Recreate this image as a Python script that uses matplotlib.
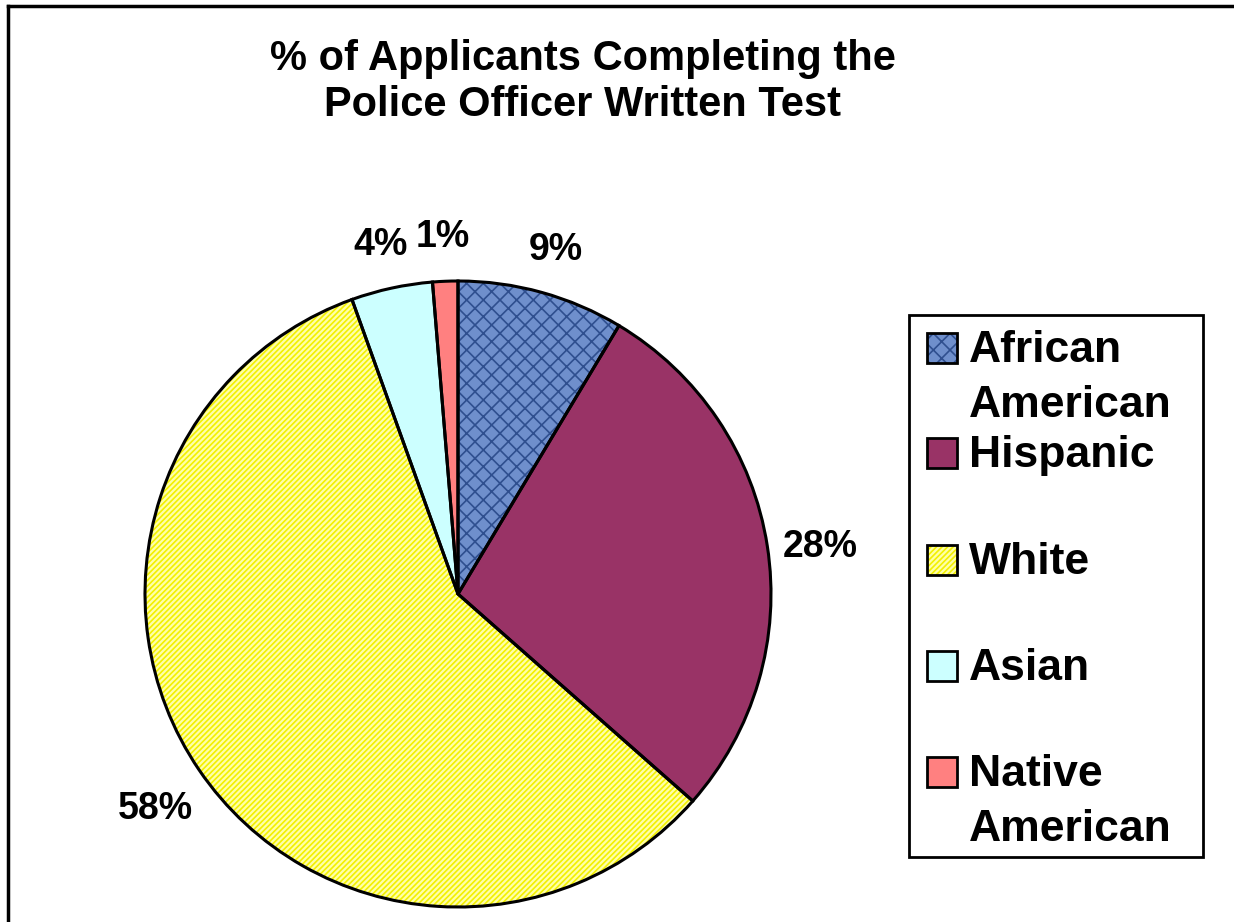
import matplotlib
matplotlib.use("Agg")
import matplotlib.pyplot as plt
from matplotlib.patches import Rectangle
from matplotlib.lines import Line2D
from matplotlib.transforms import ScaledTranslation

plt.rcParams['font.family'] = ['Liberation Sans', 'DejaVu Sans']
plt.rcParams['hatch.linewidth'] = 1.2

# ---- data ----
categories = ["African\nAmerican", "Hispanic", "White", "Asian", "Native\nAmerican"]
values = [8.6, 27.9, 58.0, 4.2, 1.3]
title_text = "% of Applicants Completing the\nPolice Officer Written Test"

face_colors = ["#6F8FCC", "#993366", "#FFFFA8", "#CCFFFF", "#FF8080"]
hatch_styles = ["xx", None, "//////", None, None]
hatch_colors = ["#2F4F8F", "#993366", "#F2F000", "#CCFFFF", "#FF8080"]

W, H = 1234, 922
fig = plt.figure(figsize=(W / 100, H / 100), dpi=100)

def fx(px):
    return px / W

def fy(py):
    return 1 - py / H

# outer frame (left and top edges visible)
fig.add_artist(Line2D([fx(8), fx(8)], [fy(6), fy(930)], color="black", lw=2.5,
                      transform=fig.transFigure))
fig.add_artist(Line2D([fx(8), fx(1240)], [fy(6), fy(6)], color="black", lw=2.5,
                      transform=fig.transFigure))

# pie axes
cx, cy, r = 458, 594, 313
ax = fig.add_axes([fx(cx - r), fy(cy + r), 2 * r / W, 2 * r / H])

wedges, _, autotexts = ax.pie(values, colors=face_colors, startangle=90, counterclock=False,
                              radius=1, autopct="%1.0f%%", pctdistance=1.17,
                              textprops=dict(fontsize=27, fontweight="bold", color="black"),
                              wedgeprops=dict(linewidth=0))
for w, hs, hc in zip(wedges, hatch_styles, hatch_colors):
    if hs:
        w.set_hatch(hs)
        w.set_edgecolor(hc)
        w.set_linewidth(0)
    w.set_clip_on(False)
shift = ScaledTranslation(0, -9 / 100, fig.dpi_scale_trans)
for t in autotexts:
    t.set_clip_on(False)
    t.set_transform(ax.transData + shift)

# outlines
outl, _ = ax.pie(values, colors=["none"] * len(values), startangle=90, counterclock=False,
                 radius=1, wedgeprops=dict(linewidth=2.2, edgecolor="black"))
for w in outl:
    w.set_clip_on(False)

ax.set_xlim(-1, 1)
ax.set_ylim(-1, 1)
ax.set_aspect("equal")
ax.axis("off")

# title
fig.text(fx(583), fy(82), title_text, ha="center", va="center", fontsize=30,
         fontweight="bold", linespacing=1.22)

# legend box
lx0, ly0, lx1, ly1 = 909, 315, 1203, 857
fig.add_artist(Rectangle((fx(lx0), fy(ly1)), (lx1 - lx0) / W, (ly1 - ly0) / H,
                         transform=fig.transFigure, facecolor="white",
                         edgecolor="black", lw=2))
marker_centers = [348, 453, 560, 666, 772]
sq = 30
for lab, fc, hs, hc, mc in zip(categories, face_colors, hatch_styles, hatch_colors, marker_centers):
    fig.add_artist(Rectangle((fx(927), fy(mc + sq / 2)), sq / W, sq / H,
                             transform=fig.transFigure, facecolor=fc,
                             edgecolor=hc if hs else "none", hatch=hs, lw=0))
    fig.add_artist(Rectangle((fx(927), fy(mc + sq / 2)), sq / W, sq / H,
                             transform=fig.transFigure, facecolor="none",
                             edgecolor="black", lw=2))
    for i, line in enumerate(lab.split("\n")):
        fig.text(fx(969), fy(mc + 14 + i * 55), line, ha="left", va="baseline",
                 fontsize=32, fontweight="bold")

fig.savefig("out.png", dpi=100, facecolor="white")
